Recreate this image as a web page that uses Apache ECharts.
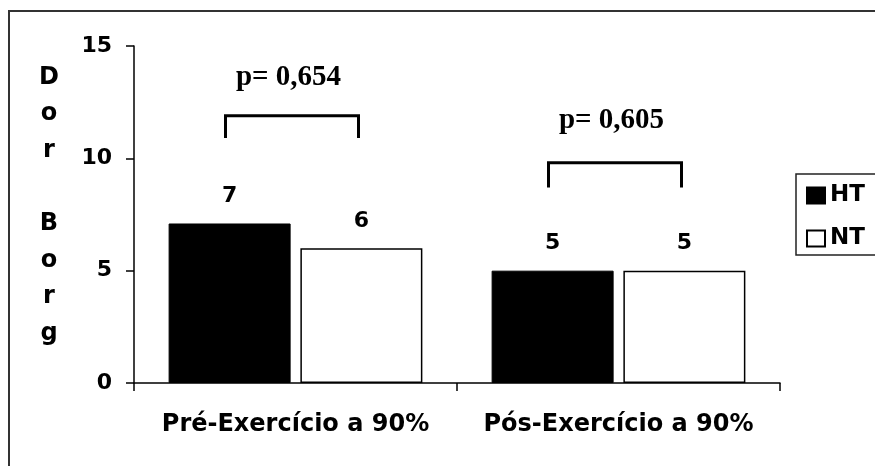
<!DOCTYPE html>
<html>
<head>
<meta charset="utf-8">
<script src="https://cdn.jsdelivr.net/npm/echarts@6/dist/echarts.min.js"></script>
<style>
  html, body { margin: 0; padding: 0; background: #fff; }
  #main { width: 875px; height: 466px; }
</style>
</head>
<body>
<div id="main"></div>
<script>
var categories = ['Pré-Exercício a 90%', 'Pós-Exercício a 90%'];
var htValues = [7.1, 5];
var ntValues = [6, 5];
var pTexts = ['p= 0,654', 'p= 0,605'];
var yTicks = [0, 5, 10, 15];

var chartDom = document.getElementById('main');
var myChart = echarts.init(chartDom);
var option;

var sans = 'DejaVu Sans';

option = {
    animation: false,
    grid: {
        left: 134,
        right: 95,
        top: 46,
        bottom: 83
    },
    legend: {
        orient: 'vertical',
        left: 796,
        top: 174,
        data: ['HT', 'NT'],
        icon: 'rect',
        itemWidth: 18,
        itemHeight: 16,
        itemGap: 20,
        padding: [10, 40, 5, 10],
        borderColor: '#222',
        borderWidth: 1.5,
        textStyle: {
            color: '#000',
            fontFamily: sans,
            fontWeight: 'bold',
            fontSize: 23
        }
    },
    xAxis: {
        type: 'category',
        data: categories,
        axisLine: { lineStyle: { color: '#000', width: 1.5 } },
        axisTick: { show: true, length: 8, lineStyle: { color: '#000', width: 1.5 } },
        axisLabel: {
            interval: 0,
            hideOverlap: false,
            margin: 30,
            color: '#000',
            fontFamily: sans,
            fontWeight: 'bold',
            fontSize: 24
        }
    },
    yAxis: {
        type: 'value',
        min: yTicks[0],
        max: yTicks[yTicks.length - 1],
        interval: 5,
        splitLine: { show: false },
        axisLine: { show: true, lineStyle: { color: '#000', width: 1.5 } },
        axisTick: { show: true, length: 8, lineStyle: { color: '#000', width: 1.5 } },
        axisLabel: {
            margin: 22,
            color: '#000',
            fontFamily: sans,
            fontWeight: 'bold',
            fontSize: 22
        }
    },
    series: [
        {
            name: 'HT',
            type: 'bar',
            data: htValues,
            barWidth: 122,
            barGap: '8%',
            itemStyle: { color: '#000', borderColor: '#000', borderWidth: 1 },
            label: {
                show: true,
                position: 'top',
                distance: 16,
                color: '#000',
                fontFamily: sans,
                fontWeight: 'bold',
                fontSize: 22,
                formatter: function (p) { return Math.round(p.value); }
            }
        },
        {
            name: 'NT',
            type: 'bar',
            data: ntValues,
            barWidth: 122,
            itemStyle: { color: '#fff', borderColor: '#000', borderWidth: 1.5 },
            label: {
                show: true,
                position: 'top',
                distance: 16,
                color: '#000',
                fontFamily: sans,
                fontWeight: 'bold',
                fontSize: 22,
                formatter: function (p) { return Math.round(p.value); }
            }
        }
    ]
};

option && myChart.setOption(option);

// brackets and p-values above each category
var bracketTop = [11.9, 9.8];
var bracketLeg = [10.9, 8.7];
var pLevel = [13.6, 11.7];
var elements = [
    {
        type: 'rect',
        shape: { x: 9, y: 11, width: 1000, height: 600 },
        style: { fill: 'none', stroke: '#333', lineWidth: 2 },
        silent: true
    },
    {
        type: 'text',
        style: {
            text: 'D\no\nr\n\nB\no\nr\ng',
            x: 49,
            y: 59,
            font: 'bold 24px "DejaVu Sans"',
            fill: '#000',
            align: 'center',
            lineHeight: 36.6,
            verticalAlign: 'top'
        }
    }
];
categories.forEach(function (c, i) {
    var top = myChart.convertToPixel({ xAxisIndex: 0, yAxisIndex: 0 }, [i, bracketTop[i]]);
    var leg = myChart.convertToPixel({ xAxisIndex: 0, yAxisIndex: 0 }, [i, bracketLeg[i]]);
    var pt = myChart.convertToPixel({ xAxisIndex: 0, yAxisIndex: 0 }, [i, pLevel[i]]);
    var x0 = top[0] - 70, x1 = top[0] + 63;
    elements.push({
        type: 'polyline',
        shape: { points: [[x0, leg[1]], [x0, top[1]], [x1, top[1]], [x1, leg[1]]] },
        style: { fill: 'none', stroke: '#000', lineWidth: 3 }
    });
    elements.push({
        type: 'text',
        style: {
            text: pTexts[i],
            x: pt[0] - 7,
            y: pt[1],
            font: 'bold 29px "Liberation Serif"',
            fill: '#000',
            align: 'center',
            verticalAlign: 'middle'
        }
    });
});
myChart.setOption({ graphic: elements });
</script>
</body>
</html>
